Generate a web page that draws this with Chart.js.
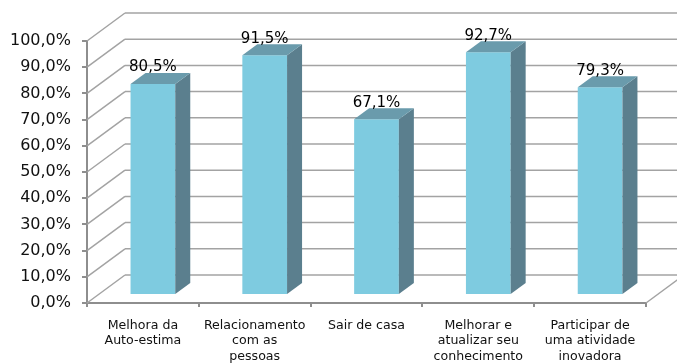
<!DOCTYPE html>
<html>
<head>
<meta charset="utf-8">
<script src="https://cdn.jsdelivr.net/npm/chart.js@4.4.1/dist/chart.umd.min.js"></script>
<style>
  html, body { margin: 0; padding: 0; background: #fff; }
  #wrap { width: 677px; height: 363px; }
</style>
</head>
<body>
<div id="wrap"><canvas id="chart"></canvas></div>
<script>
const categories = [
  ['Melhora da', 'Auto-estima'],
  ['Relacionamento', 'com as', 'pessoas'],
  ['Sair de casa'],
  ['Melhorar e', 'atualizar seu', 'conhecimento'],
  ['Participar de', 'uma atividade', 'inovadora']
];
const values = [80.5, 91.5, 67.1, 92.7, 79.3];
const yTicks = [0, 10, 20, 30, 40, 50, 60, 70, 80, 90, 100];

const fmtPct = v => v.toFixed(1).replace('.', ',') + '%';

// 3D look: where the bars stand, how deep they are, and where the back wall sits
const BAR_SHIFT = { x: 10, y: -8 };
const BAR_DEPTH = { x: 15, y: -11 };
const WALL_SHIFT = { x: 38, y: -28 };

const FRONT = '#7ecbe0';
const SIDE = '#5b7f8e';
const TOP = '#6a9bac';
const GRID = '#a3a3a3';
const AXIS = '#8e8e8e';
const FONT = '"DejaVu Sans", Verdana, sans-serif';

const threeD = {
  id: 'threeD',
  beforeDatasetsDraw(chart) {
    const { ctx, chartArea, scales: { y } } = chart;
    ctx.save();
    ctx.strokeStyle = GRID;
    ctx.lineWidth = 1.5;
    // back wall gridlines and the diagonals that join them to the front axis
    yTicks.forEach(t => {
      const py = y.getPixelForValue(t);
      ctx.beginPath();
      ctx.moveTo(chartArea.left + WALL_SHIFT.x, py + WALL_SHIFT.y);
      ctx.lineTo(chart.width, py + WALL_SHIFT.y);
      ctx.stroke();
      ctx.beginPath();
      ctx.moveTo(chartArea.left, py);
      ctx.lineTo(chartArea.left + WALL_SHIFT.x, py + WALL_SHIFT.y);
      ctx.stroke();
    });
    // right edge of the floor
    const base = y.getPixelForValue(0);
    ctx.beginPath();
    ctx.moveTo(chartArea.right, base);
    ctx.lineTo(chartArea.right + WALL_SHIFT.x, base + WALL_SHIFT.y);
    ctx.stroke();
    ctx.restore();

    // bars are drawn in a plane behind the front axis
    ctx.save();
    ctx.translate(BAR_SHIFT.x, BAR_SHIFT.y);
  },
  afterDatasetsDraw(chart) {
    const { ctx } = chart;
    ctx.restore();
    const meta = chart.getDatasetMeta(0);
    ctx.save();
    meta.data.forEach((bar, i) => {
      const p = bar.getProps(['x', 'y', 'base', 'width'], true);
      const x1 = p.x - p.width / 2 + BAR_SHIFT.x;
      const x2 = p.x + p.width / 2 + BAR_SHIFT.x;
      const yt = p.y + BAR_SHIFT.y;
      const yb = p.base + BAR_SHIFT.y;
      // side face
      ctx.fillStyle = SIDE;
      ctx.beginPath();
      ctx.moveTo(x2, yt);
      ctx.lineTo(x2 + BAR_DEPTH.x, yt + BAR_DEPTH.y);
      ctx.lineTo(x2 + BAR_DEPTH.x, yb + BAR_DEPTH.y);
      ctx.lineTo(x2, yb);
      ctx.closePath();
      ctx.fill();
      // top face
      ctx.fillStyle = TOP;
      ctx.beginPath();
      ctx.moveTo(x1, yt);
      ctx.lineTo(x2, yt);
      ctx.lineTo(x2 + BAR_DEPTH.x, yt + BAR_DEPTH.y);
      ctx.lineTo(x1 + BAR_DEPTH.x, yt + BAR_DEPTH.y);
      ctx.closePath();
      ctx.fill();
      // value label
      ctx.fillStyle = '#000';
      ctx.font = '15px ' + FONT;
      ctx.textAlign = 'center';
      ctx.textBaseline = 'bottom';
      ctx.fillText(fmtPct(values[i]), (x1 + x2) / 2, yt + BAR_DEPTH.y + 2);
    });
    ctx.restore();
  }
};

new Chart(document.getElementById('chart'), {
  type: 'bar',
  data: {
    labels: categories,
    datasets: [{
      data: values,
      backgroundColor: FRONT,
      borderWidth: 0,
      barPercentage: 0.4,
      categoryPercentage: 1,
      clip: false
    }]
  },
  options: {
    responsive: true,
    maintainAspectRatio: false,
    animation: false,
    devicePixelRatio: 1,
    layout: { padding: { left: 0, right: 31, top: 41, bottom: 0 } },
    plugins: {
      legend: { display: false },
      tooltip: { enabled: false }
    },
    scales: {
      x: {
        afterFit: scale => { scale.height = 60; },
        grid: { drawOnChartArea: false, color: AXIS, lineWidth: 2, tickLength: 4 },
        border: { color: AXIS, width: 2 },
        ticks: {
          color: '#111',
          padding: 11,
          maxRotation: 0,
          autoSkip: false,
          font: { family: FONT, size: 12.6, lineHeight: 1.22 }
        }
      },
      y: {
        min: 0,
        max: 100,
        afterFit: scale => { scale.width = 87; },
        afterBuildTicks: scale => { scale.ticks = yTicks.map(v => ({ value: v })); },
        grid: { drawOnChartArea: false, color: AXIS, lineWidth: 2, tickLength: 5 },
        border: { color: AXIS, width: 2 },
        ticks: {
          color: '#111',
          padding: 11,
          callback: v => fmtPct(v),
          font: { family: FONT, size: 16 }
        }
      }
    }
  },
  plugins: [threeD]
});
</script>
</body>
</html>
